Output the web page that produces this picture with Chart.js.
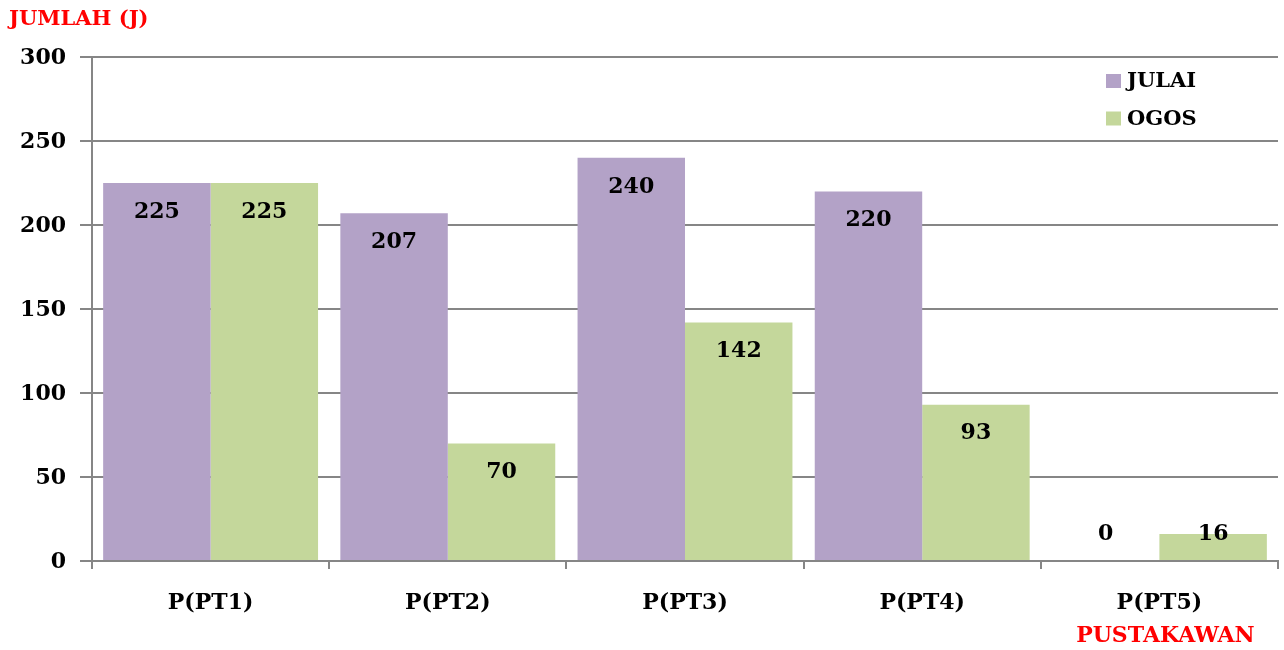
<!DOCTYPE html>
<html>
<head>
<meta charset="utf-8">
<script src="https://cdn.jsdelivr.net/npm/chart.js@4/dist/chart.umd.min.js"></script>
<style>
  html, body { margin: 0; padding: 0; background: #fff; }
  #wrap { width: 1284px; height: 650px; position: relative; }
</style>
</head>
<body>
<div id="wrap"><canvas id="c"></canvas></div>
<script>
// Data
const categories = ['P(PT1)', 'P(PT2)', 'P(PT3)', 'P(PT4)', 'P(PT5)'];
const julai = [225, 207, 240, 220, 0];
const ogos = [225, 70, 142, 93, 16];
const seriesNames = ['JULAI', 'OGOS'];
const yTicks = [0, 50, 100, 150, 200, 250, 300];
const yTitle = 'JUMLAH (J)';
const xNote = 'PUSTAKAWAN';

const FONT = '"DejaVu Serif", serif';
const GRID = '#868686';
const colors = ['#B3A2C7', '#C4D79B'];

// value labels, legend and extra texts
const extras = {
  id: 'extras',
  afterDatasetsDraw(chart) {
    const ctx = chart.ctx;
    const yScale = chart.scales.y;
    const base = yScale.getPixelForValue(0);
    ctx.save();
    ctx.font = 'bold 22px ' + FONT;
    ctx.fillStyle = '#000';
    ctx.textAlign = 'center';
    ctx.textBaseline = 'middle';
    chart.data.datasets.forEach((ds, di) => {
      chart.getDatasetMeta(di).data.forEach((bar, i) => {
        const y = Math.min(bar.y + 29, base - 27);
        ctx.fillText(String(ds.data[i]), bar.x, y);
      });
    });
    ctx.restore();
  },
  afterDraw(chart) {
    const ctx = chart.ctx;
    ctx.save();
    // y tick labels drawn by hand so size/position are exact
    const yScale = chart.scales.y;
    ctx.font = 'bold 22px ' + FONT;
    ctx.fillStyle = '#000';
    ctx.textAlign = 'right';
    ctx.textBaseline = 'middle';
    yTicks.forEach(v => ctx.fillText(String(v), 66, yScale.getPixelForValue(v) + 1));
    // axis title
    ctx.font = 'bold 21px ' + FONT;
    ctx.fillStyle = '#FF0000';
    ctx.textAlign = 'left';
    ctx.fillText(yTitle, 9, 20);
    // note under last category
    ctx.font = 'bold 22px ' + FONT;
    ctx.textAlign = 'center';
    ctx.fillText(xNote, chart.scales.x.getPixelForValue(categories.length - 1) + 6, 636);
    // legend
    ctx.font = 'bold 21px ' + FONT;
    ctx.textAlign = 'left';
    chart.data.datasets.forEach((ds, i) => {
      const cy = 81 + i * 37.5;
      ctx.fillStyle = ds.backgroundColor;
      ctx.fillRect(1106, cy - 7, 15, 14);
      ctx.fillStyle = '#000';
      ctx.fillText(ds.label, 1127, cy + 1);
    });
    ctx.restore();
  }
};

new Chart(document.getElementById('c'), {
  type: 'bar',
  data: {
    labels: categories,
    datasets: [
      { label: seriesNames[0], data: julai, backgroundColor: colors[0] },
      { label: seriesNames[1], data: ogos, backgroundColor: colors[1] }
    ]
  },
  options: {
    responsive: true,
    maintainAspectRatio: false,
    animation: false,
    layout: { padding: { top: 57, right: 6, left: 0, bottom: 0 } },
    datasets: { bar: { categoryPercentage: 0.906, barPercentage: 1.0 } },
    plugins: { legend: { display: false }, tooltip: { enabled: false } },
    scales: {
      x: {
        grid: { offset: true, drawOnChartArea: false, color: GRID, lineWidth: 2, tickLength: 8 },
        border: { color: GRID, width: 2 },
        ticks: { color: '#000', font: { family: FONT, size: 22, weight: 'bold' }, padding: 21, maxRotation: 0 },
        afterFit(scale) { scale.height = 89; }
      },
      y: {
        min: 0,
        max: 300,
        afterBuildTicks(scale) { scale.ticks = yTicks.map(v => ({ value: v })); },
        grid: { color: GRID, lineWidth: 2, tickLength: 12 },
        border: { color: GRID, width: 2 },
        ticks: { display: false },
        afterFit(scale) { scale.width = 92; }
      }
    }
  },
  plugins: [extras]
});
</script>
</body>
</html>
